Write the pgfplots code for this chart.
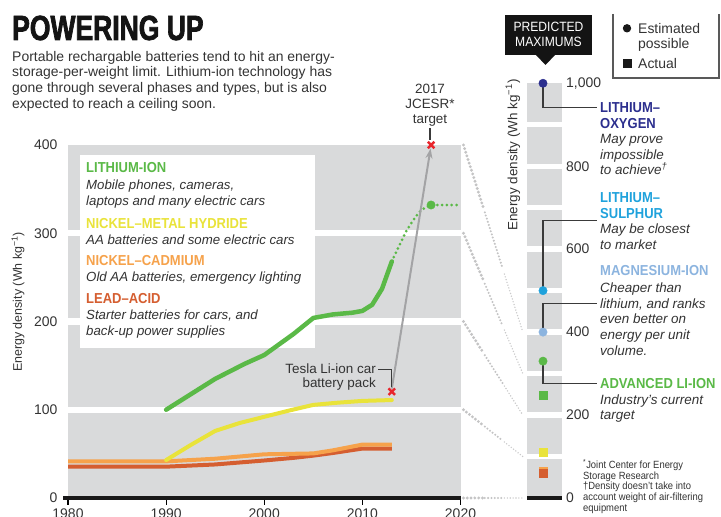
\documentclass[border=0pt]{standalone}
\usepackage{fontspec}
\setmainfont{Liberation Sans}
\newfontfamily\titlefont[FakeStretch=0.76,FakeBold=2]{Liberation Sans}
\newfontfamily\condfont[FakeStretch=0.9]{Liberation Sans}
\usepackage{graphicx}
\usepackage{pgfplots}
\pgfplotsset{compat=1.18}
\usetikzlibrary{calc,arrows.meta}

\definecolor{bandgray}{HTML}{D9DADB}
\definecolor{txt}{HTML}{333333}
\definecolor{liion}{HTML}{5AB947}
\definecolor{nimh}{HTML}{E9E33A}
\definecolor{nicd}{HTML}{F6A24B}
\definecolor{lead}{HTML}{D55E30}
\definecolor{lio}{HTML}{2C2F8E}
\definecolor{lis}{HTML}{1FA2DC}
\definecolor{mg}{HTML}{8CB4DF}
\definecolor{jred}{HTML}{E8252C}
\definecolor{arrowgray}{HTML}{A3A3A5}
\definecolor{dotgray}{HTML}{C4C4C5}
\definecolor{leadertxt}{HTML}{3A3A3A}

\newcommand{\fs}[1]{\fontsize{#1}{#1}\selectfont}
\newcommand{\conn}[2]{%
 \draw[dotgray, line width=3.2bp, line cap=round, dash pattern=on 0pt off 3.8bp] (#1) -- ($(#1)!0.33!(#2)$);
 \draw[dotgray, line width=2.3bp, line cap=round, dash pattern=on 0pt off 3.3bp] ($(#1)!0.36!(#2)$) -- ($(#1)!0.66!(#2)$);
 \draw[dotgray!90, line width=1.6bp, line cap=round, dash pattern=on 0pt off 2.9bp] ($(#1)!0.69!(#2)$) -- (#2);}

\begin{document}
\begin{tikzpicture}[x=1bp,y=1bp,
  tx/.style={inner sep=0pt, text=txt, anchor=base west},
  leader/.style={draw=leadertxt, line width=1.1bp}]

% ---------------- main chart ----------------
\begin{axis}[
  at={(68bp,19bp)}, anchor=south west,
  scale only axis, width=392.5bp, height=353bp,
  xmin=1980, xmax=2020, ymin=0, ymax=400,
  clip=false,
  axis line style={draw=none},
  xtick={1980,1990,...,2020}, ytick={0,100,...,400},
  xtick align=outside, ytick align=inside,
  major tick length=7bp,
  xtick style={draw=black, line width=1.2bp},
  ytick style={draw=none},
  tick pos=left,
  scaled ticks=false,
  /pgf/number format/assume math mode=true,
  /pgf/number format/1000 sep={},
  ticklabel style={font=\fs{14}, text=txt, inner sep=0pt},
  xticklabel style={yshift=-4bp},
  yticklabel style={xshift=-10.5bp},
]
% background bands
\fill[bandgray] (axis cs:1980,0) rectangle (axis cs:2020,96.5);
\fill[bandgray] (axis cs:1980,103.5) rectangle (axis cs:2020,196.5);
\fill[bandgray] (axis cs:1980,203.5) rectangle (axis cs:2020,296.5);
\fill[bandgray] (axis cs:1980,303.5) rectangle (axis cs:2020,400);
% legend box
\fill[white] (axis cs:1981.2,170) rectangle (axis cs:2005.2,388.7);

\addplot[lead, line width=4bp, line join=round, line cap=butt] coordinates {
(1980,35.5) (1990,35.5) (1995,38) (2000,42.5) (2003,45.5) (2005,48) (2007,51) (2010,56) (2013,56)};
\addplot[nicd, line width=4bp, line join=round, line cap=butt] coordinates {
(1980,41.5) (1990,41.5) (1995,44.5) (2000,49.5) (2005,50.5) (2007,54) (2010,60.5) (2013,60.5)};
\addplot[nimh, line width=4bp, line join=round, line cap=round] coordinates {
(1990,43) (1992.5,60) (1995,76) (1997.5,85) (2000,92) (2002.5,99) (2005,105.5) (2007.5,108) (2010,110) (2013,111)};
\addplot[liion, line width=4.5bp, line join=round, line cap=round] coordinates {
(1990,100) (1992,114) (1995,135) (1998,152) (2000,162) (2003,186) (2005,204) (2007,208) (2009,210) (2010,212) (2011,219) (2012,237) (2013,268)};
\addplot[liion, line width=3bp, line cap=round, dash pattern=on 0pt off 4.8bp] coordinates {
(2013,268) (2013.8,287) (2014.5,303) (2015.2,315) (2015.8,324) (2016.4,329) (2017,332) (2020,332)};

\draw[arrowgray, line width=2bp, -{Stealth[length=10bp,width=7bp]}] (axis cs:2013,124) -- (axis cs:2016.95,396);

\addplot[only marks, mark=*, color=liion, mark size=4.2bp] coordinates {(2017,332)};
\addplot[only marks, mark=x, color=jred, mark size=4.6bp, mark options={line width=2.4bp}] coordinates {(2017,400) (2013,120.5)};

\draw[black!90, line width=4.5bp] (axis cs:1979.5,0) -- (axis cs:2020,0);

\coordinate (m400) at (axis cs:2020.3,400);
\coordinate (m300) at (axis cs:2020.3,300);
\coordinate (m200) at (axis cs:2020.3,200);
\coordinate (m100) at (axis cs:2020.3,100);
\coordinate (m0) at (axis cs:2020.3,0);
\end{axis}

% ---------------- right panel ----------------
\begin{axis}[
  at={(527bp,19bp)}, anchor=south west,
  scale only axis, width=35bp, height=414.7bp,
  xmin=0, xmax=1, ymin=0, ymax=1000, clip=false,
  axis line style={draw=none},
  xtick=\empty, ytick={0,200,...,1000},
  ytick style={draw=none}, major tick length=0pt,
  yticklabel pos=right,
  scaled ticks=false,
  /pgf/number format/assume math mode=true,
  /pgf/number format/1000 sep={,},
  yticklabel style={font=\fs{14}, text=txt, inner sep=0pt, anchor=west, xshift=4bp},
]
\fill[bandgray] (axis cs:0,0) rectangle (axis cs:1,93.5);
\fill[bandgray] (axis cs:0,106.5) rectangle (axis cs:1,193.5);
\fill[bandgray] (axis cs:0,206.5) rectangle (axis cs:1,293.5);
\fill[bandgray] (axis cs:0,306.5) rectangle (axis cs:1,393.5);
\fill[bandgray] (axis cs:0,406.5) rectangle (axis cs:1,493.5);
\fill[bandgray] (axis cs:0,506.5) rectangle (axis cs:1,593.5);
\fill[bandgray] (axis cs:0,606.5) rectangle (axis cs:1,693.5);
\fill[bandgray] (axis cs:0,706.5) rectangle (axis cs:1,793.5);
\fill[bandgray] (axis cs:0,806.5) rectangle (axis cs:1,893.5);
\fill[bandgray] (axis cs:0,906.5) rectangle (axis cs:1,1000);
\draw[black!90, line width=4bp] (axis cs:0,0) -- (axis cs:1,0);

\draw[leader] (axis cs:0.457,1000) -- (axis cs:0.457,942) -- (axis cs:2.0,942);
\draw[leader] (axis cs:0.457,500) -- (axis cs:0.457,670) -- (axis cs:2.0,670);
\draw[leader] (axis cs:0.457,400) -- (axis cs:0.457,470) -- (axis cs:2.0,470);
\draw[leader] (axis cs:0.457,330) -- (axis cs:0.457,277) -- (axis cs:2.0,277);

\addplot[only marks, mark=*, color=lio, mark size=4.2bp] coordinates {(0.457,1000)};
\addplot[only marks, mark=*, color=lis, mark size=4.2bp] coordinates {(0.457,500)};
\addplot[only marks, mark=*, color=mg, mark size=4.2bp] coordinates {(0.457,400)};
\addplot[only marks, mark=*, color=liion, mark size=4.2bp] coordinates {(0.457,330)};
\addplot[only marks, mark=square*, color=liion, mark size=4.3bp] coordinates {(0.457,248)};
\addplot[only marks, mark=square*, color=nimh, mark size=4.3bp] coordinates {(0.457,110)};
\addplot[only marks, mark=square*, color=nicd, mark size=4.3bp] coordinates {(0.457,65)};
\addplot[only marks, mark=square*, color=lead, mark size=4.3bp] coordinates {(0.457,60)};

\coordinate (r400) at (axis cs:-0.12,400);
\coordinate (r300) at (axis cs:-0.12,300);
\coordinate (r200) at (axis cs:-0.12,200);
\coordinate (r100) at (axis cs:-0.12,100);
\coordinate (r0) at (axis cs:-0.12,0);
\end{axis}

% connectors
\conn{m400}{r400}
\conn{m300}{r300}
\conn{m200}{r200}
\conn{m100}{r100}
\conn{m0}{r0}

\begin{scope}[yshift=517bp, y=-1bp]
% ---------------- title & subtitle ----------------
\node[tx, text=black!92] at (12,40) {\titlefont\bfseries\fs{35}POWERING UP};
\node[tx] at (12,61.5) {\fs{14}Portable rechargable batteries tend to hit an energy-};
\node[tx] at (12,77) {\fs{14}storage-per-weight limit. Lithium-ion technology has};
\node[tx] at (12,92.5) {\fs{14}gone through several phases and types, but is also};
\node[tx] at (12,108.3) {\fs{14}expected to reach a ceiling soon.};

% y label main
\node[inner sep=0pt, text=txt, rotate=90] at (18,302) {\fs{12.5}Energy density (Wh kg\textsuperscript{\char"2212 1})};

% legend box texts
\node[tx, text=liion] at (86,173) {\condfont\bfseries\fs{14.5}LITHIUM-ION};
\node[tx] at (86,189.5) {\itshape\fs{13.3}Mobile phones, cameras,};
\node[tx] at (86,205.5) {\itshape\fs{13.3}laptops and many electric cars};
\node[tx, text=nimh] at (86,228.5) {\condfont\bfseries\fs{14.5}NICKEL–METAL HYDRIDE};
\node[tx] at (86,244.5) {\itshape\fs{13.3}AA batteries and some electric cars};
\node[tx, text=nicd] at (86,265.5) {\condfont\bfseries\fs{14.5}NICKEL–CADMIUM};
\node[tx] at (86,281.5) {\itshape\fs{13.3}Old AA batteries, emergency lighting};
\node[tx, text=lead] at (86,303.5) {\condfont\bfseries\fs{14.5}LEAD–ACID};
\node[tx] at (86,320) {\itshape\fs{13.3}Starter batteries for cars, and};
\node[tx] at (86,335.5) {\itshape\fs{13.3}back-up power supplies};

% JCESR label
\node[inner sep=0pt, text=txt, anchor=base] at (430,94) {\fs{13.5}2017};
\node[inner sep=0pt, text=txt, anchor=base] at (430,109) {\fs{13.5}JCESR*};
\node[inner sep=0pt, text=txt, anchor=base] at (430,124) {\fs{13.5}target};
\draw[leader] (430,128) -- (430,140);

% Tesla label
\node[inner sep=0pt, text=txt, anchor=base east] at (376,373.5) {\fs{13.5}Tesla Li-ion car};
\node[inner sep=0pt, text=txt, anchor=base east] at (376,388) {\fs{13.5}battery pack};
\draw[leader] (378,369.3) -- (391.5,369.3) -- (391.5,387);

% predicted maximums box
\fill[black!92] (505,15) rectangle (592,55);
\fill[black!92] (535,54) -- (556,54) -- (545.5,65) -- cycle;
\node[inner sep=0pt, text=white, anchor=base] at (548.5,31.7) {\condfont\fs{13.5}PREDICTED};
\node[inner sep=0pt, text=white, anchor=base] at (548.5,46.7) {\condfont\fs{13.5}MAXIMUMS};

% legend top right
\draw[draw=black!65, line width=1.2bp] (613,14) -- (613,78) -- (719,78) -- (719,14);
\fill[black!90] (627,28.3) circle (4.2);
\fill[black!90] (622.5,59) rectangle (631.5,68);
\node[tx] at (638,33.3) {\fs{14}Estimated};
\node[tx] at (638,48.3) {\fs{14}possible};
\node[tx] at (638,68.3) {\fs{14}Actual};

% right y label
\node[inner sep=0pt, text=txt, rotate=90] at (513,155) {\fs{13.5}Energy density (Wh kg\textsuperscript{\char"2212 1})};

% right labels
\node[tx, text=lio] at (600,113) {\condfont\bfseries\fs{14.5}LITHIUM–};
\node[tx, text=lio] at (600,128.3) {\condfont\bfseries\fs{14.5}OXYGEN};
\node[tx] at (600,144) {\itshape\fs{13.5}May prove};
\node[tx] at (600,159.5) {\itshape\fs{13.5}impossible};
\node[tx] at (600,175) {\itshape\fs{13.5}to achieve\textsuperscript{†}};

\node[tx, text=lis] at (600,202.7) {\condfont\bfseries\fs{14.5}LITHIUM–};
\node[tx, text=lis] at (600,218.3) {\condfont\bfseries\fs{14.5}SULPHUR};
\node[tx] at (600,233.3) {\itshape\fs{13.5}May be closest};
\node[tx] at (600,249.3) {\itshape\fs{13.5}to market};

\node[tx, text=mg] at (600,276) {\condfont\bfseries\fs{14.5}MAGNESIUM-ION};
\node[tx] at (600,292.3) {\itshape\fs{13.5}Cheaper than};
\node[tx] at (600,308.3) {\itshape\fs{13.5}lithium, and ranks};
\node[tx] at (600,324) {\itshape\fs{13.5}even better on};
\node[tx] at (600,340) {\itshape\fs{13.5}energy per unit};
\node[tx] at (600,356) {\itshape\fs{13.5}volume.};

\node[tx, text=liion] at (600,388.3) {\condfont\bfseries\fs{14.5}ADVANCED LI-ION};
\node[tx] at (600,405) {\itshape\fs{13.5}Industry’s current};
\node[tx] at (600,420) {\itshape\fs{13.5}target};

% footnotes
\node[tx] at (583,468.3) {\condfont\fs{10.5}\textsuperscript{*}Joint Center for Energy};
\node[tx] at (583,479.3) {\condfont\fs{10.5}Storage Research};
\node[tx] at (583,490) {\condfont\fs{10.5}†Density doesn’t take into};
\node[tx] at (583,501) {\condfont\fs{10.5}account weight of air-filtering};
\node[tx] at (583,511.7) {\condfont\fs{10.5}equipment};
\end{scope}

\pgfresetboundingbox
\useasboundingbox (0,0) rectangle (721,517);
\end{tikzpicture}
\end{document}
